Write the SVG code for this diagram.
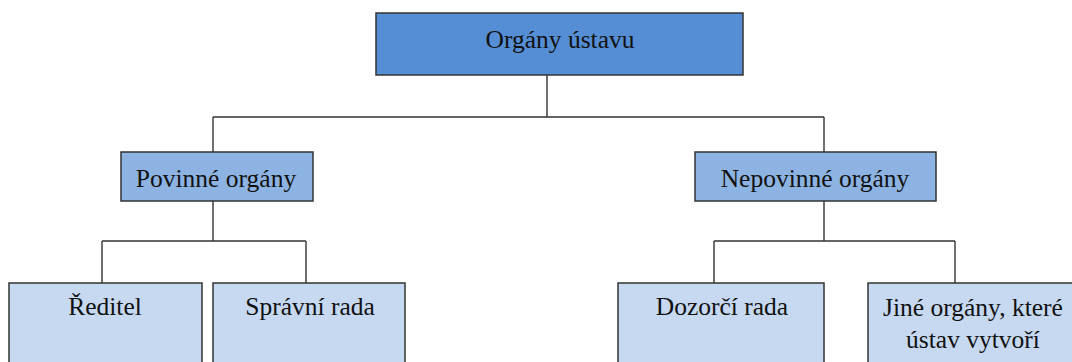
<svg xmlns="http://www.w3.org/2000/svg" width="1072" height="362" viewBox="0 0 1072 362">
<style>
.box{stroke:#333;stroke-width:1.5}
.l0{fill:#558ED5}
.l1{fill:#8DB3E2}
.l2{fill:#C6D9F1}
.t{font-family:'Liberation Serif',serif;font-size:25.5px;fill:#111;text-anchor:middle}
.c{fill:none;stroke:#333;stroke-width:1.4}
</style>
<rect width="1072" height="362" fill="#fff"/>
<g id="connectors">
<path class="c" d="M547 75V117M213 117H824M213 117V152M824 117V152"/>
<path class="c" d="M213 201V241M102 241H306M102 241V283M306 241V283"/>
<path class="c" d="M824 201V241M714 241H955M714 241V283M955 241V283"/>
</g>
<g id="organy-ustavu">
<rect class="box l0" x="376" y="13" width="367" height="62"/>
<text class="t" x="560" y="48">Orgány ústavu</text>
</g>
<g id="povinne-organy">
<rect class="box l1" x="121" y="152" width="192" height="49"/>
<text class="t" x="216" y="187">Povinné orgány</text>
</g>
<g id="nepovinne-organy">
<rect class="box l1" x="695" y="152" width="241" height="49"/>
<text class="t" x="815" y="187">Nepovinné orgány</text>
</g>
<g id="reditel">
<rect class="box l2" x="9" y="283" width="193" height="90"/>
<text class="t" x="105" y="315">Ředitel</text>
</g>
<g id="spravni-rada">
<rect class="box l2" x="213" y="283" width="192" height="90"/>
<text class="t" x="310" y="315">Správní rada</text>
</g>
<g id="dozorci-rada">
<rect class="box l2" x="618" y="283" width="206" height="90"/>
<text class="t" x="722" y="315">Dozorčí rada</text>
</g>
<g id="jine-organy">
<rect class="box l2" x="868" y="283" width="210" height="90"/>
<text class="t" x="973" y="316">Jiné orgány, které</text>
<text class="t" x="973" y="348">ústav vytvoří</text>
</g>
</svg>
